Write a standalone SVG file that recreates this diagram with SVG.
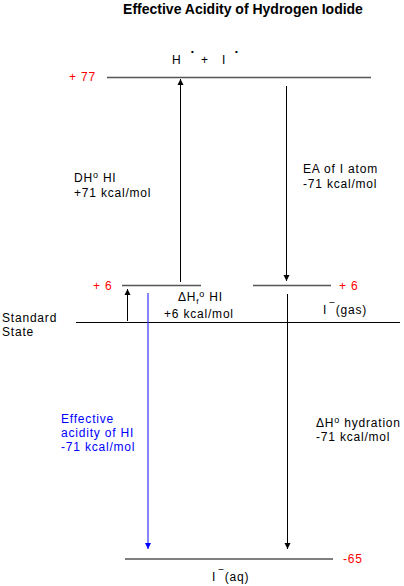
<svg xmlns="http://www.w3.org/2000/svg" width="404" height="586" viewBox="0 0 404 586">
<style>
text{font-family:"Liberation Sans",Arial,sans-serif;font-size:12px;letter-spacing:0.8px;fill:#000}
.t{font-weight:bold;font-size:14px;letter-spacing:0}
.r{fill:#ff0000}
.b{fill:#0000ff}
.lvl{stroke:#555;stroke-width:1.4}
.std{stroke:#000;stroke-width:1.2}
.ar{stroke:#000;stroke-width:1;fill:none}
.ab{stroke:#3333ff;stroke-width:1.2;fill:none}
.dot{font-size:8px;font-weight:bold}
</style>
<defs>
<marker id="ah" markerWidth="6" markerHeight="8" refX="6" refY="3" orient="auto" markerUnits="userSpaceOnUse" viewBox="0 0 6 6"><path d="M0,0 L6,3 L0,6 Z" fill="#000"/></marker>
<marker id="ahb" markerWidth="6" markerHeight="8" refX="6" refY="3" orient="auto" markerUnits="userSpaceOnUse" viewBox="0 0 6 6"><path d="M0,0 L6,3 L0,6 Z" fill="#0000ff"/></marker>
</defs>
<rect width="404" height="586" fill="#fff"/>
<text class="t" x="243" y="14" text-anchor="middle">Effective Acidity of Hydrogen Iodide</text>
<g id="level-top">
<line class="lvl" x1="107" y1="77.5" x2="371" y2="77.5"/>
<text class="r" x="69" y="81">+ 77</text>
<text x="172" y="64">H</text>
<text class="dot" x="191" y="54">•</text>
<text x="201" y="64">+</text>
<text x="222" y="64">I</text>
<text class="dot" x="235" y="54">•</text>
</g>
<g id="level-hi">
<line class="lvl" x1="122" y1="285.5" x2="201" y2="285.5"/>
<text class="r" x="93" y="290">+ 6</text>
</g>
<g id="level-igas">
<line class="lvl" x1="253" y1="285.5" x2="331" y2="285.5"/>
<text class="r" x="339" y="290">+ 6</text>
<text x="323" y="314">I<tspan dx="2" dy="-8" font-size="10">−</tspan><tspan dy="8">(gas)</tspan></text>
</g>
<g id="level-standard">
<line class="std" x1="76" y1="322.5" x2="400" y2="322.5"/>
<text x="2" y="322">Standard</text>
<text x="2" y="336">State</text>
</g>
<g id="level-aq">
<line class="lvl" x1="125" y1="559" x2="333" y2="559"/>
<text class="r" x="343" y="563">-65</text>
<text x="212" y="581">I<tspan dx="2" dy="-8" font-size="10">−</tspan><tspan dy="8">(aq)</tspan></text>
</g>
<g id="connectors">
<line class="ar" x1="180.5" y1="282" x2="180.5" y2="79" marker-end="url(#ah)"/>
<line class="ar" x1="286.5" y1="86" x2="286.5" y2="281" marker-end="url(#ah)"/>
<line class="ar" x1="127.5" y1="321" x2="127.5" y2="289" marker-end="url(#ah)"/>
<line class="ab" x1="148" y1="293" x2="148" y2="549" marker-end="url(#ahb)"/>
<line class="ar" x1="287.5" y1="294" x2="287.5" y2="549" marker-end="url(#ah)"/>
</g>
<g id="labels">
<text x="74" y="182">DH<tspan font-size="9" dy="-4">o</tspan><tspan dy="4"> HI</tspan></text>
<text x="74" y="197">+71 kcal/mol</text>
<text x="303" y="173">EA of I atom</text>
<text x="303" y="188">-71 kcal/mol</text>
<text x="178" y="301">ΔH<tspan font-size="8" dy="3">f</tspan><tspan font-size="9" dy="-7">o</tspan><tspan dy="4"> HI</tspan></text>
<text x="164" y="318">+6 kcal/mol</text>
<text class="b" x="61" y="423">Effective</text>
<text class="b" x="61" y="437">acidity of HI</text>
<text class="b" x="61" y="451">-71 kcal/mol</text>
<text x="316" y="427">ΔH<tspan font-size="9" dy="-4">o</tspan><tspan dy="4"> hydration</tspan></text>
<text x="316" y="441">-71 kcal/mol</text>
</g>
</svg>
